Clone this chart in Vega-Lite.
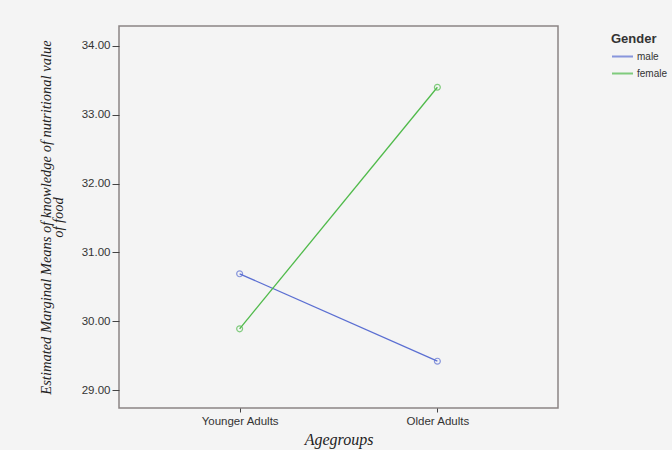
{
  "$schema": "https://vega.github.io/schema/vega-lite/v6.json",
  "autosize": "none",
  "width": 439,
  "height": 382,
  "padding": {"left": 119, "top": 26, "right": 114, "bottom": 42},
  "background": "#f4f4f4",
  "config": {
    "view": {"stroke": "#8a8484", "strokeWidth": 1.5, "fill": "#f4f4f4"},
    "axis": {"grid": false, "domain": false, "labelFont": "Liberation Sans", "labelFontSize": 11.5, "labelColor": "#333", "tickColor": "#444", "titleFont": "Liberation Serif", "titleFontStyle": "italic", "titleFontWeight": "normal", "titleColor": "#222"}
  },
  "data": {
    "values": [
      {"Agegroups": "Younger Adults", "Gender": "male", "mean": 30.69},
      {"Agegroups": "Older Adults", "Gender": "male", "mean": 29.42},
      {"Agegroups": "Younger Adults", "Gender": "female", "mean": 29.89},
      {"Agegroups": "Older Adults", "Gender": "female", "mean": 33.40}
    ]
  },
  "layer": [
    {
      "mark": {"type": "line", "strokeWidth": 1.3},
      "encoding": {
        "x": {"field": "Agegroups", "type": "ordinal", "sort": ["Younger Adults", "Older Adults"], "scale": {"type": "point", "padding": 0.61}, "axis": {"title": "Agegroups", "labelAngle": 0, "tickSize": 4, "labelPadding": 3, "titleFontSize": 16, "titlePadding": 5}},
        "y": {"field": "mean", "type": "quantitative", "scale": {"domain": [28.74, 34.29], "nice": false, "zero": false}, "axis": {"values": [29, 30, 31, 32, 33, 34], "format": ".2f", "tickSize": 7, "labelPadding": 2, "title": ["Estimated Marginal Means of knowledge of nutritional value", "of food"], "titleFontSize": 14.5, "titlePadding": 16, "titleLineHeight": 12}},
        "color": {"field": "Gender", "type": "nominal", "sort": ["male", "female"], "scale": {"domain": ["male", "female"], "range": ["#5b6fd2", "#4fba4a"]}, "legend": {"orient": "none", "legendX": 492, "legendY": 7, "title": "Gender", "titleFont": "Liberation Sans", "titleFontSize": 13, "titleFontWeight": "bold", "titleColor": "#333", "titlePadding": -1, "labelFont": "Liberation Sans", "labelFontSize": 10, "labelColor": "#333", "symbolType": "stroke", "symbolSize": 441, "symbolStrokeWidth": 2, "rowPadding": -10, "labelOffset": 3}}
      }
    },
    {
      "mark": {"type": "point", "filled": false, "size": 35, "strokeWidth": 1.2},
      "encoding": {
        "x": {"field": "Agegroups", "type": "ordinal", "sort": ["Younger Adults", "Older Adults"]},
        "y": {"field": "mean", "type": "quantitative"},
        "color": {"field": "Gender", "type": "nominal"}
      }
    }
  ]
}
